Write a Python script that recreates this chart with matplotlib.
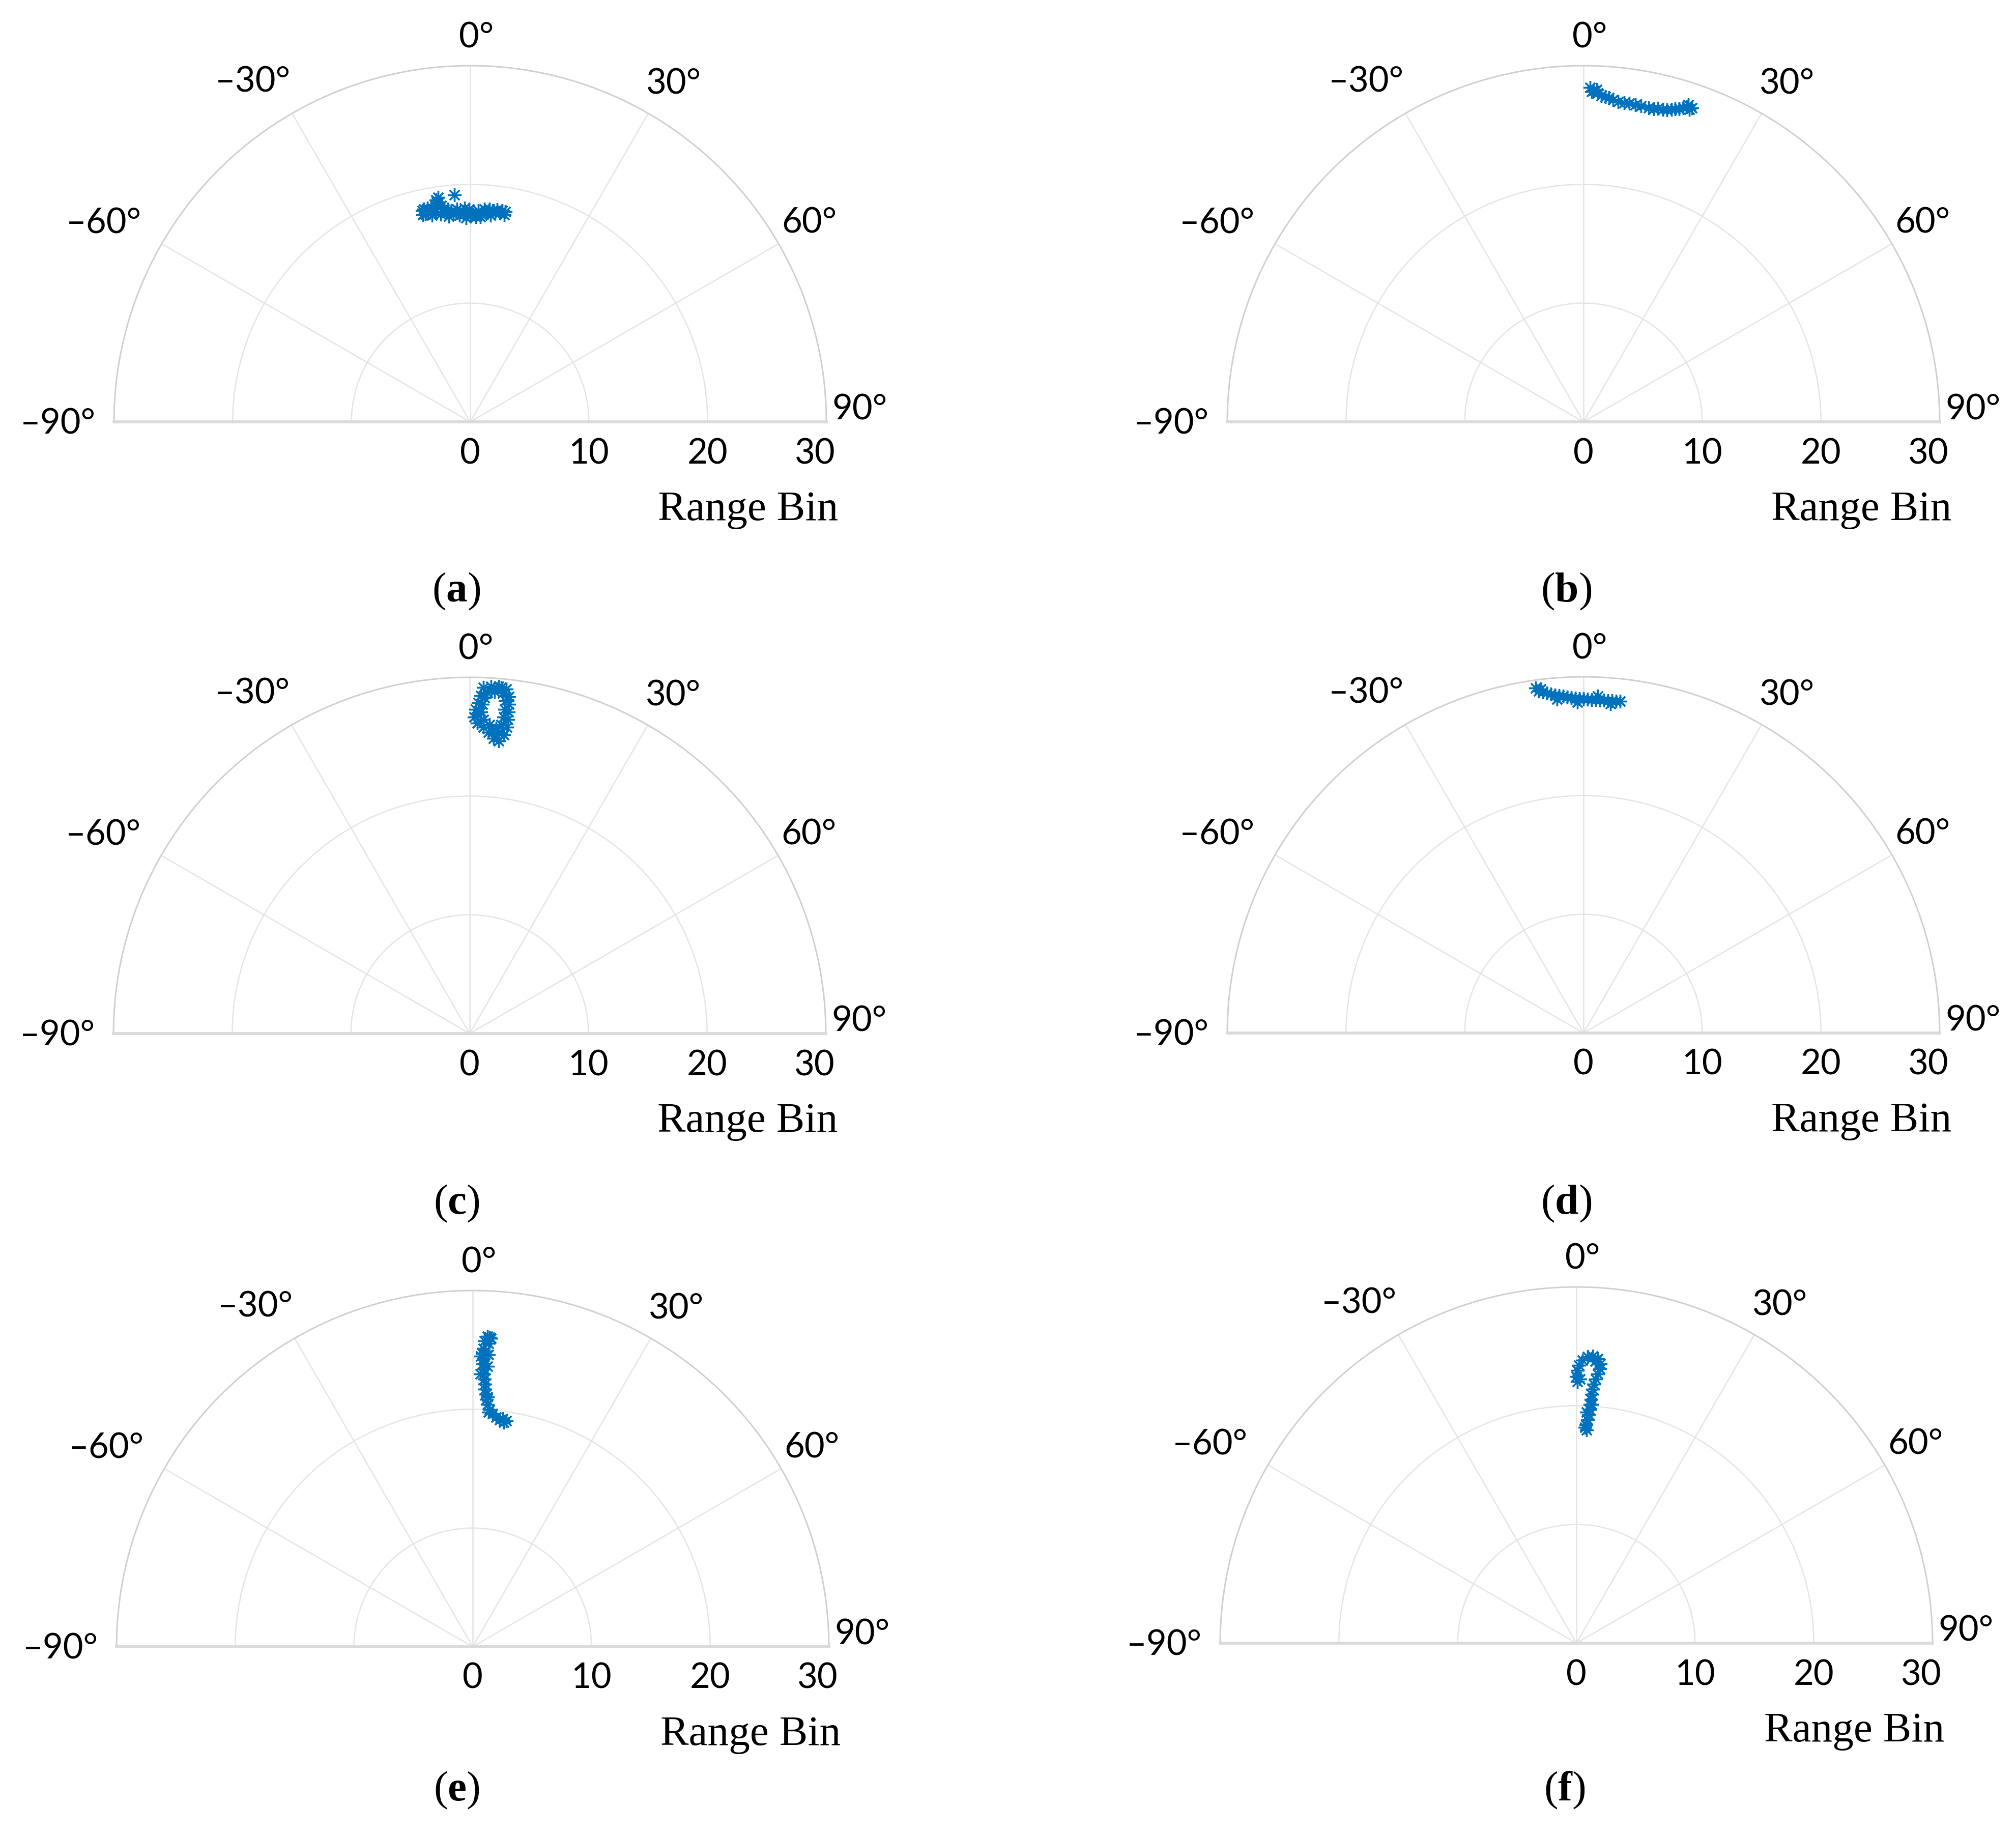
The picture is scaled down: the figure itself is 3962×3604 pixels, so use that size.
import numpy as np
import matplotlib
matplotlib.use("Agg")
import matplotlib.pyplot as plt

plt.rcParams['mathtext.fontset'] = 'custom'
plt.rcParams['mathtext.rm'] = 'Liberation Serif'
plt.rcParams['mathtext.bf'] = 'Liberation Serif:bold'

# ---------------- data (angle in degrees, range in bins) ----------------
theta_a = [-12.7, -12.2, -11.3, -11.2, -10.4, -10.4, -9.3, -8.7, -8.1, -8.0,
           -7.7, -9.3, -8.1, -7.0, -6.5, -5.9, -5.1, -4.0, -4.6, -3.5,
           -3.0, -1.9, -1.2, -0.3, 0.65, 1.5, 2.25, 3.1, 3.8, 4.7,
           5.6, 6.1, 6.8, 7.3, 8.1, 8.6, 9.5, 9.3, -12.3, -8.6,
           -12.9, -1.5, 0.2, 5.2, -6.0, 2.8]
r_a = [18.24, 17.91, 18.36, 18.04, 18.20, 17.69, 18.54, 18.92, 19.09, 18.68,
       18.36, 17.94, 17.68, 18.03, 17.71, 17.39, 17.87, 19.17, 17.56, 17.93,
       17.42, 17.71, 17.20, 17.90, 17.50, 17.26, 17.81, 17.53, 17.94, 17.66,
       17.48, 17.90, 17.68, 18.00, 17.78, 18.00, 17.94, 17.68, 18.32, 18.66,
       17.90, 18.00, 17.30, 18.00, 18.00, 17.30]

theta_b = [1.14, 1.77, 1.42, 2.27, 2.48, 3.12, 3.84, 4.48, 5.24, 6.16,
           7.27, 8.19, 9.30, 10.30, 11.72, 12.66, 13.34, 14.26, 14.98, 15.74,
           16.32, 17.0, 17.62, 18.16, 18.72, 19.04, 18.3]
r_b = [28.17, 27.91, 27.83, 28.01, 27.72, 27.52, 27.45, 27.38, 27.24, 27.12,
       27.09, 27.11, 27.06, 27.06, 27.01, 27.02, 27.13, 27.16, 27.20, 27.35,
       27.47, 27.57, 27.75, 27.92, 27.79, 27.98, 28.12]

theta_c = [2.28, 3.53, 4.77, 6.08, 6.63, 6.79, 6.86, 6.92, 6.92, 6.51,
           5.65, 4.62, 3.59, 2.57, 1.40, 0.84, 1.07, 1.50, 1.89,
           2.99, 4.17, 5.56, 6.11, 6.19, 6.14, 5.84, 4.96, 3.67, 2.51,
           1.99, 2.21, 2.51, 5.51, 4.35, 5.21, 1.56]
r_c = [29.17, 29.29, 29.33, 29.18, 28.57, 27.93, 27.29, 26.64, 25.99, 25.32,
       24.77, 24.94, 25.42, 25.83, 26.16, 26.66, 27.30, 27.87, 28.48,
       28.76, 28.88, 28.81, 28.19, 27.46, 26.81, 26.16, 25.82, 26.07, 26.48,
       27.11, 27.75, 28.32, 25.41, 25.44, 29.27, 26.89]

theta_d = [-7.90, -7.46, -7.08, -6.81, -6.16, -5.48, -4.82, -4.15, -3.45, -2.77,
           -2.09, -1.40, -0.69, 0.0, 0.69, 1.41, 2.10, 2.80, 3.49, 4.21,
           4.90, 5.60, 6.31, -1.05, 2.42, -4.53, 4.68]
r_d = [29.34, 29.05, 29.20, 28.92, 28.80, 28.68, 28.56, 28.49, 28.43, 28.32,
       28.27, 28.21, 28.16, 28.16, 28.12, 28.09, 28.10, 28.06, 28.08, 28.07,
       28.09, 28.08, 28.12, 27.86, 28.41, 28.21, 27.82]

theta_e = [2.72, 3.39, 2.20, 2.98, 2.05, 1.88, 3.09, 1.62, 2.12, 2.07,
           3.00, 2.30, 2.34, 1.60, 2.51, 2.67, 2.72, 2.99, 3.19, 3.48,
           4.04, 4.86, 5.82, 6.77, 7.86, 8.46, 7.51, 2.46, 3.10, 3.37, 3.85]
r_e = [26.18, 26.02, 25.78, 25.58, 25.14, 24.70, 24.64, 24.48, 24.28, 23.85,
       23.65, 23.42, 22.99, 22.98, 22.57, 22.14, 21.71, 21.29, 20.86, 20.44,
       20.02, 19.70, 19.43, 19.25, 19.08, 19.24, 19.37, 24.92, 26.10, 21.09, 19.80]

theta_f = [2.74, 2.52, 2.86, 3.06, 3.23, 3.30, 3.46, 3.52, 3.66, 3.83,
           4.19, 4.54, 4.87, 4.88, 4.30, 3.24, 2.23, 1.23, 0.51, 0.22,
           0.0, 0.23, 3.83, 3.67, 2.53, 2.30, 0.77]
r_f = [17.98, 18.41, 18.84, 19.28, 19.70, 20.13, 20.57, 21.00, 21.43, 21.87,
       22.31, 22.74, 23.18, 23.62, 24.03, 24.21, 24.15, 23.84, 23.40, 22.97,
       22.46, 22.03, 23.80, 20.14, 19.48, 18.19, 22.25]

panel_names = ['a', 'b', 'c', 'd', 'e', 'f']
angle_ticks = [-90, -60, -30, 0, 30, 60, 90]
angle_labels = ['\u201390\u00b0', '\u201360\u00b0', '\u201330\u00b0', '0\u00b0',
                '30\u00b0', '60\u00b0', '90\u00b0']
range_ticks = [0, 10, 20, 30]
range_labels = ['0', '10', '20', '30']
axis_label = 'Range Bin'

# ---------------- layout ----------------
W, H, DPI = 3962, 3604, 300
fig = plt.figure(figsize=(W / DPI, H / DPI), dpi=DPI)
fig.patch.set_facecolor('white')

R = 700  # pixels for 30 bins
centers = [(924, 829), (3112, 829), (923, 2031), (3112, 2030), (929, 3236), (3098, 3229)]
label_pos = [(897, 1162), (3078, 1162), (897, 2365), (3078, 2365), (897, 3518), (3075, 3518)]
angle_label_pos = [(-90.3, 34.7), (-61.6, 35.1), (-32.6, 34.0), (0.9, 32.35),
                   (31.0, 33.2), (59.6, 33.1), (88.2, 32.8)]

data = [(theta_a, r_a), (theta_b, r_b), (theta_c, r_c),
        (theta_d, r_d), (theta_e, r_e), (theta_f, r_f)]

sans = ['Lato', 'DejaVu Sans']
serif = ['Liberation Serif', 'DejaVu Serif']
blue = '#0072BD'

for i, ((cx, cy), (th, rr)) in enumerate(zip(centers, data)):
    ax = fig.add_axes([(cx - R) / W, (H - cy - R / 2) / H, 2 * R / W, 2 * R / H],
                      projection='polar')
    ax.set_theta_zero_location('N')
    ax.set_theta_direction(-1)
    ax.set_thetamin(-90)
    ax.set_thetamax(90)
    ax.set_rlim(0, 30)
    ax.set_thetagrids(angle_ticks, labels=[''] * len(angle_ticks))
    ax.set_rgrids([10, 20, 30], labels=['', '', ''])
    ax.grid(True, color='#e4e4e4', linewidth=0.6)
    ax.tick_params(length=0)
    ax.spines['polar'].set_color('#cfcfcf')
    ax.spines['polar'].set_linewidth(0.7)
    for s in ('start', 'end'):
        ax.spines[s].set_color('#dadada')
        ax.spines[s].set_linewidth(1.4)
    ax.spines['inner'].set_visible(False)

    ax.plot(np.deg2rad(th), rr, linestyle='none', marker=(8, 2, 0),
            markersize=6.5, markeredgewidth=0.8, color=blue, clip_on=False)

    for lab, (a, rp) in zip(angle_labels, angle_label_pos):
        ax.text(np.deg2rad(a), rp, lab, ha='center', va='center',
                fontsize=16.5, family=sans)
    for rt, rl in zip(range_ticks, range_labels):
        dx = -5.5 if rt == 30 else 0
        ax.annotate(rl, xy=(np.pi / 2, rt), xytext=(dx, -15), textcoords='offset points',
                    ha='center', va='center', fontsize=16.5, family=sans)
    ax.annotate(axis_label, xy=(0, 0), xytext=(131, -41.5), textcoords='offset points',
                ha='center', va='center', fontsize=20, family=serif)

    lx, ly = label_pos[i]
    fig.text(lx / W, 1 - ly / H, '($\\mathbf{%s}$)' % panel_names[i], ha='center',
             va='center', fontsize=20, family=serif)

fig.savefig('out.png', dpi=DPI, facecolor='white')
